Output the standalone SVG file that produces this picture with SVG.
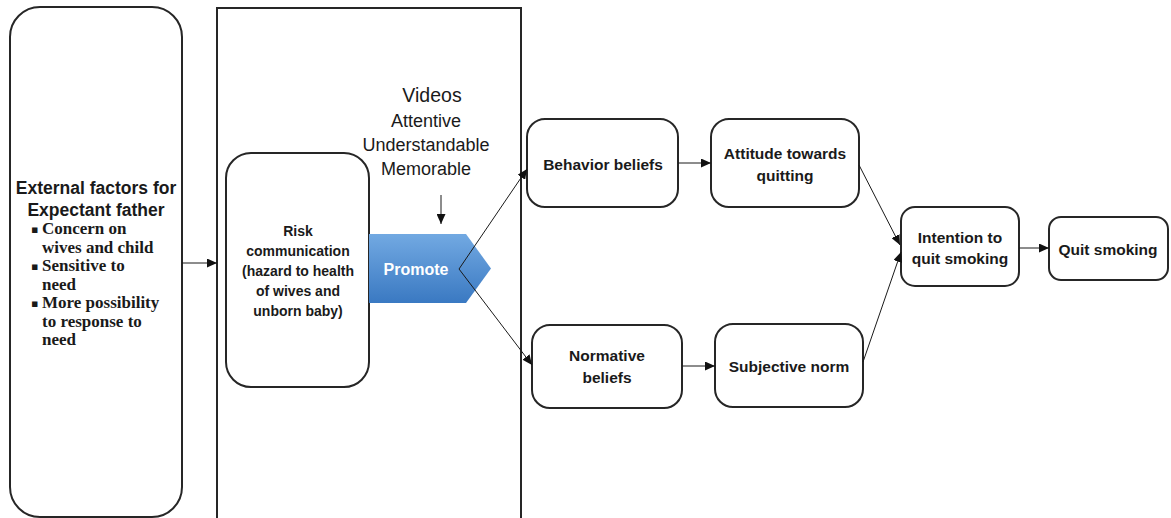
<svg xmlns="http://www.w3.org/2000/svg" width="1171" height="518" viewBox="0 0 1171 518">
<style>
.box{fill:#fff;stroke:#262626;stroke-width:2}
.lbl{font-family:"Liberation Sans",Arial,sans-serif;font-weight:bold;font-size:15.5px;fill:#1a1a1a;text-anchor:middle}
.risk{font-size:14px}
.ser{font-family:"Liberation Serif","Times New Roman",serif;font-weight:bold;font-size:17px;fill:#1a1a1a}
.bul{font-family:"DejaVu Sans",sans-serif;font-size:11px}
.vid{font-family:"Liberation Sans",Arial,sans-serif;font-size:18px;fill:#1a1a1a;text-anchor:middle}
.con{stroke:#1a1a1a;stroke-width:1;fill:none;marker-end:url(#ah)}
</style>
<defs>
<marker id="ah" markerUnits="userSpaceOnUse" markerWidth="11" markerHeight="9" refX="10" refY="4.5" orient="auto">
<path d="M0,0 L10,4.5 L0,9 Z" fill="#111"/>
</marker>
<linearGradient id="blue" x1="0" y1="0" x2="0" y2="1">
<stop offset="0" stop-color="#72a9e2"/>
<stop offset="1" stop-color="#3a79c2"/>
</linearGradient>
</defs>
<rect width="1171" height="518" fill="#fff"/>
<g id="external">
<rect class="box" x="10" y="7" width="172" height="510" rx="30"/>
<text class="lbl" style="font-size:17.5px" x="96" y="194">External factors for</text>
<text class="lbl" style="font-size:17.5px" x="96" y="216">Expectant father</text>
<text class="ser"><tspan class="bul" x="31" y="233">▪</tspan><tspan x="42" y="234">Concern on</tspan><tspan x="42" y="252.5">wives and child</tspan><tspan class="bul" x="31" y="270">▪</tspan><tspan x="42" y="271">Sensitive to</tspan><tspan x="42" y="289.5">need</tspan><tspan class="bul" x="31" y="307">▪</tspan><tspan x="42" y="308">More possibility</tspan><tspan x="42" y="326.5">to response to</tspan><tspan x="42" y="345">need</tspan></text>
</g>
<g id="frame">
<rect x="217" y="8" width="304" height="520" fill="none" stroke="#262626" stroke-width="2"/>
</g>
<g id="risk">
<rect class="box" x="226" y="153" width="143" height="234" rx="25"/>
<text class="lbl risk" x="298" y="236">Risk</text>
<text class="lbl risk" x="298" y="256">communication</text>
<text class="lbl risk" x="298" y="276">(hazard to health</text>
<text class="lbl risk" x="298" y="296">of wives and</text>
<text class="lbl risk" x="298" y="316">unborn baby)</text>
</g>
<g id="videos">
<text class="vid" style="font-size:19.5px" x="432" y="102">Videos</text>
<text class="vid" x="426" y="127">Attentive</text>
<text class="vid" x="426" y="151">Understandable</text>
<text class="vid" x="426" y="175">Memorable</text>
</g>
<g id="promote">
<path d="M369,234 L466,234 L491,268.5 L466,303 L369,303 Z" fill="url(#blue)"/>
<text class="lbl" style="font-size:16px;fill:#fff" x="416" y="275">Promote</text>
</g>
<g id="behavior">
<rect class="box" x="527" y="119" width="151" height="88" rx="18"/>
<text class="lbl" x="603" y="169.5">Behavior beliefs</text>
</g>
<g id="normative">
<rect class="box" x="532" y="325" width="150" height="83" rx="18"/>
<text class="lbl" x="607" y="361">Normative</text>
<text class="lbl" x="607" y="383">beliefs</text>
</g>
<g id="attitude">
<rect class="box" x="711" y="119" width="148" height="88" rx="18"/>
<text class="lbl" x="785" y="158.5">Attitude towards</text>
<text class="lbl" x="785" y="180.5">quitting</text>
</g>
<g id="subjective">
<rect class="box" x="715" y="324" width="148" height="83" rx="18"/>
<text class="lbl" x="789" y="372">Subjective norm</text>
</g>
<g id="intention">
<rect class="box" x="901" y="207" width="118" height="79" rx="14"/>
<text class="lbl" x="960" y="242.5">Intention to</text>
<text class="lbl" x="960" y="264">quit smoking</text>
</g>
<g id="quit">
<rect class="box" x="1049" y="217" width="119" height="63" rx="12"/>
<text class="lbl" x="1108" y="254.5">Quit smoking</text>
</g>
<g id="connectors">
<line class="con" x1="182" y1="263" x2="217" y2="263"/>
<line class="con" x1="441" y1="195" x2="441" y2="224"/>
<line class="con" x1="459" y1="269" x2="527" y2="169"/>
<line class="con" x1="459" y1="269" x2="532" y2="365"/>
<line class="con" x1="678" y1="163" x2="711" y2="163"/>
<line class="con" x1="682" y1="366" x2="715" y2="366"/>
<line class="con" x1="859" y1="165" x2="900" y2="245"/>
<line class="con" x1="863" y1="362" x2="901" y2="252"/>
<line class="con" x1="1019" y1="248" x2="1049" y2="248"/>
</g>
</svg>
